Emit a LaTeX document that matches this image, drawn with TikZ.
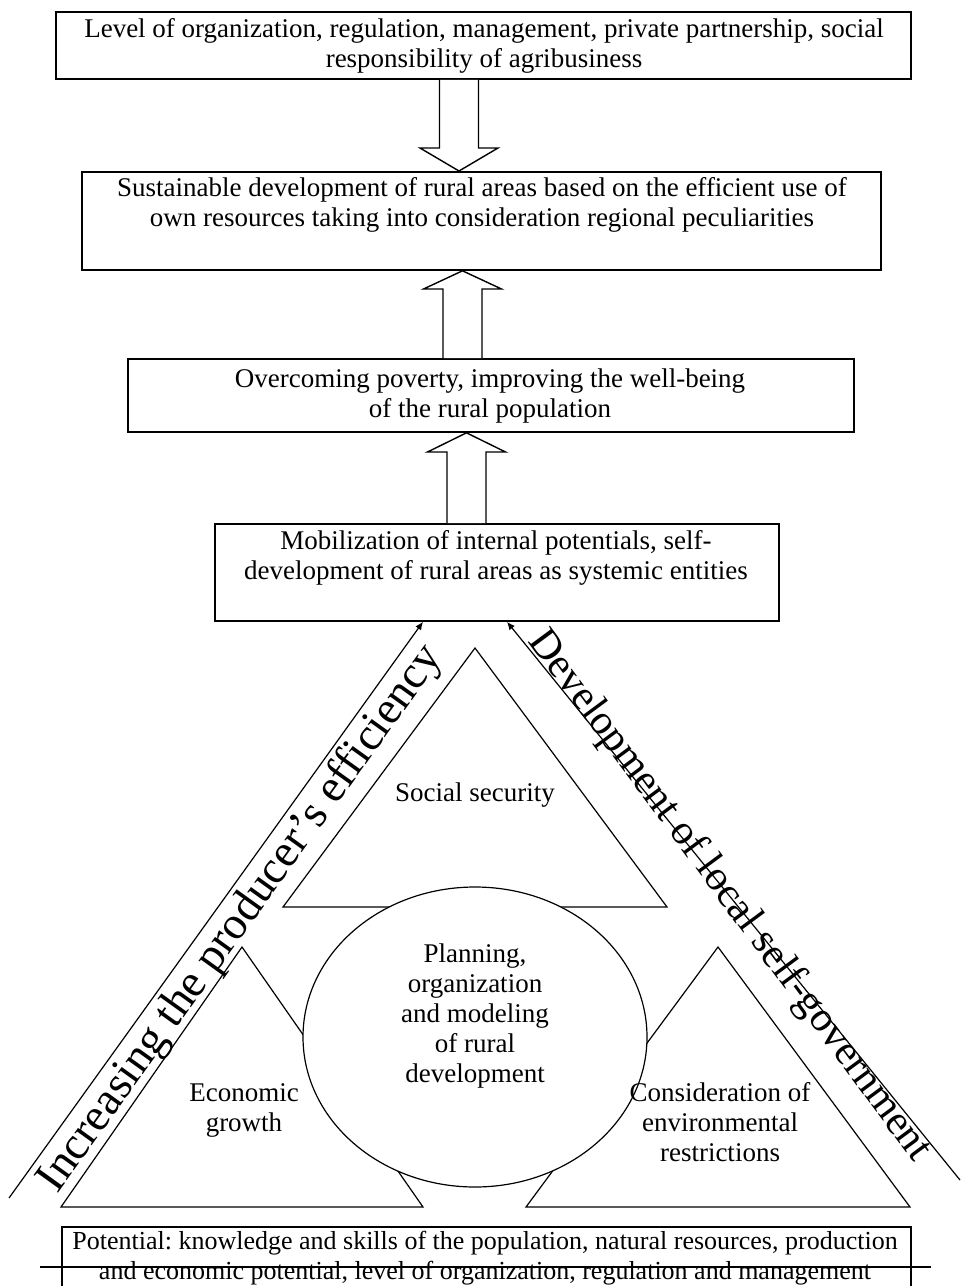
\documentclass[tikz,border=0pt]{standalone}
\usepackage{fontspec}
\setmainfont{Liberation Serif}
\frenchspacing
\usetikzlibrary{arrows.meta,calc,shapes.geometric}
\tikzset{
  every node/.style={font=\fontsize{13.5}{15}\selectfont},
  frame/.style={draw, line width=0.9pt, inner sep=0pt, anchor=north west},
  txt/.style={align=center, inner sep=0pt},
  bigtxt/.style={font=\fontsize{23}{26}\selectfont, inner sep=2pt},
  hollow/.style={draw, fill=white, line width=0.7pt, line join=miter},
  part/.style={draw, fill=white, line width=0.6pt},
  lever/.style={-{Latex[length=4pt, width=3.5pt]}, line width=0.6pt},
}
% block arrow: centre x, tail anchor, tip anchor, y of the head base
\newcommand{\blockArrow}[4]{%
  \draw[hollow] (#1-19.5,0 |- #2) -- (#1-19.5,#4) -- (#1-39,#4) -- (#1,0 |- #3)
    -- (#1+39,#4) -- (#1+19.5,#4) -- (#1+19.5,0 |- #2);}

\begin{document}
\begin{tikzpicture}[x=0.5pt, y=-0.5pt]
\useasboundingbox (0,0) rectangle (962,1286);

% ------------------------------------------------------------- the boxes
\node[frame, minimum width=427.5pt, minimum height=33.5pt] (b1) at (55,11) {};
\node[frame, minimum width=399.5pt, minimum height=49pt] (b2) at (81,171) {};
\node[frame, minimum width=363pt, minimum height=36.5pt] (b3) at (127,358) {};
\node[frame, minimum width=282pt, minimum height=48.5pt] (b4) at (214,523) {};
\node[frame, minimum width=424.5pt, minimum height=40pt] (b5) at (61,1226) {};

% ------------------------------------------------------ the block arrows
\blockArrow{459}{b1.south}{b2.north}{148}
\blockArrow{462.5}{b3.north}{b2.south}{289}
\blockArrow{466.5}{b4.north}{b3.south}{452}

% ---------------------------------------------------- the three triangles
\draw[part] (475,648) -- (667,907) -- (283,907) -- cycle;
\draw[part] (242,947) -- (423,1207) -- (61,1207) -- cycle;
\draw[part] (718,947) -- (910,1207) -- (526,1207) -- cycle;
\node[part, ellipse, minimum width=172pt, minimum height=150pt, inner sep=0pt]
  (plan) at (475,1037) {};

% ------------------------------------------------------ the two side paths
\coordinate (lfoot) at (9,1198);
\coordinate (rfoot) at (960,1180);
\draw[lever] (lfoot) -- (423,0 |- b4.south)
  node[bigtxt, sloped, below, pos=0.51] (eff) {Increasing the producer’s efficiency};
\draw[lever] (rfoot) -- (507,0 |- b4.south);
\node[bigtxt, font=\fontsize{21}{26}\selectfont, rotate=-53.5] (selfgov) at (729,896)
  {Development of local self-government};

\draw[line width=0.9pt] (40,1267) -- (931,1267);

% ------------------------------------------------------------- the texts
\node[txt] (t1) at (484,46)
  {Level of organization, regulation, management, private partnership, social\\
   responsibility of agribusiness};
\node[txt] (t2) at (482,205)
  {Sustainable development of rural areas based on the efficient use of\\
   own resources taking into consideration regional peculiarities};
\node[txt] (t3) at (490,396)
  {Overcoming poverty, improving the well-being\\of the rural population};
\node[txt] (t4) at (496,558)
  {Mobilization of internal potentials, self-\\
   development of rural areas as systemic entities};
\node[txt, font=\fontsize{13}{15}\selectfont] (t5) at (485,1258)
  {Potential: knowledge and skills of the population, natural resources, production\\
   and economic potential, level of organization, regulation and management};

\node[txt] (soc) at (475,795) {Social security};
\node[txt] (plantxt) at (475,1016)
  {Planning,\\organization\\and modeling\\of rural\\development};
\node[txt] (eco) at (244,1110) {Economic\\growth};
\node[txt] (env) at (720,1122) {Consideration of\\environmental\\restrictions};

\end{tikzpicture}
\end{document}
